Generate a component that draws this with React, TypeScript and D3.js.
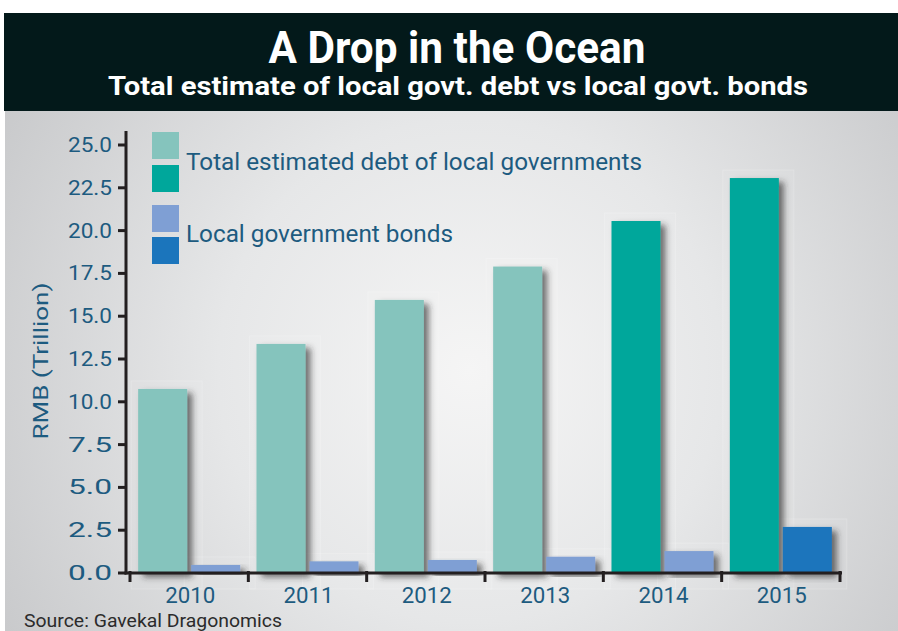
import React from "react";
import * as d3 from "d3";

const years = ["2010", "2011", "2012", "2013", "2014", "2015"];
const debtValues = [10.75, 13.38, 15.95, 17.9, 20.56, 23.07];
const bondValues = [0.47, 0.68, 0.76, 0.95, 1.28, 2.69];
const yTicks = [0, 2.5, 5, 7.5, 10, 12.5, 15, 17.5, 20, 22.5, 25];
const legendLabels = ["Total estimated debt of local governments", "Local government bonds"];
const title = "A Drop in the Ocean";
const subtitle = "Total estimate of local govt. debt vs local govt. bonds";
const yLabel = "RMB (Trillion)";
const source = "Source: Gavekal Dragonomics";
// years from which the darker shade is used
const debtDarkFrom = "2014";
const bondDarkFrom = "2015";

const W = 898;
const H = 631;
const TEXT_BLUE = "#1d5b80";
const C = {
  debtLight: "#85c4bd",
  debtDark: "#00a79b",
  bondLight: "#7f9fd4",
  bondDark: "#1b75bc",
};

export default function App() {
  const y = d3.scaleLinear().domain([0, 25]).range([573, 145]);
  const x = d3.scaleBand<string>().domain(years).range([130, 840]).padding(0);
  const sub = d3
    .scaleBand<string>()
    .domain(["debt", "bond"])
    .range([0, x.bandwidth()])
    .paddingInner(0.075)
    .paddingOuter(0.154);
  const bw = sub.bandwidth();
  const font = "Roboto, 'DejaVu Sans', sans-serif";

  const bars: { key: string; x: number; y: number; h: number; fill: string }[] = [];
  years.forEach((yr, i) => {
    const bx = x(yr)!;
    bars.push({
      key: "d" + yr,
      x: bx + sub("debt")!,
      y: y(debtValues[i]),
      h: y(0) - y(debtValues[i]),
      fill: +yr >= +debtDarkFrom ? C.debtDark : C.debtLight,
    });
    bars.push({
      key: "b" + yr,
      x: bx + sub("bond")!,
      y: y(bondValues[i]),
      h: y(0) - y(bondValues[i]),
      fill: +yr >= +bondDarkFrom ? C.bondDark : C.bondLight,
    });
  });

  const boundaries = [...years.map((yr) => x(yr)!), x.range()[1]];

  return (
    <svg
      width={W}
      height={H}
      style={{ position: "absolute", left: 0, top: 0 }}
      viewBox={`0 0 ${W} ${H}`}
    >
      <defs>
        <radialGradient id="bg" cx="470" cy="370" r="560" gradientUnits="userSpaceOnUse">
          <stop offset="0" stopColor="#f5f5f5" />
          <stop offset="0.45" stopColor="#e6e7e8" />
          <stop offset="1" stopColor="#c6c7c9" />
        </radialGradient>
        <filter id="shadow" x="-30%" y="-10%" width="170%" height="130%">
          <feDropShadow dx="5" dy="4" stdDeviation="3" floodColor="#2a2a2a" floodOpacity="0.65" />
        </filter>
      </defs>
      <rect x={0} y={0} width={W} height={H} fill="#ffffff" />
      <rect x={5} y={110} width={W - 5} height={H - 110} fill="url(#bg)" />
      <rect x={4} y={13} width={W - 4} height={98} fill="#03191a" />
      <text
        x={457}
        y={63}
        textAnchor="middle"
        fill="#ffffff"
        fontFamily={font}
        fontWeight="bold"
        fontSize={45}
        textLength={377}
        lengthAdjust="spacingAndGlyphs"
      >
        {title}
      </text>
      <text
        x={458}
        y={95}
        textAnchor="middle"
        fill="#ffffff"
        fontFamily={font}
        fontWeight="bold"
        fontSize={25}
        textLength={700}
        lengthAdjust="spacingAndGlyphs"
      >
        {subtitle}
      </text>

      {/* faint highlight boxes behind bars */}
      {bars.map((b) => (
        <rect
          key={"hl" + b.key}
          x={b.x - 7}
          y={b.y - 8}
          width={bw + 22}
          height={y(0) - b.y + 24}
          fill="#ffffff"
          fillOpacity={0.06}
          stroke="#ffffff"
          strokeOpacity={0.2}
          strokeWidth={1}
        />
      ))}

      {/* bars */}
      {bars.map((b) => (
        <rect key={b.key} x={b.x} y={b.y} width={bw} height={b.h} fill={b.fill} filter="url(#shadow)" />
      ))}

      {/* y axis */}
      <line x1={126} x2={126} y1={131} y2={574.5} stroke="#231f20" strokeWidth={3} />
      {yTicks.map((t) => (
        <g key={t}>
          <line x1={118} x2={126} y1={y(t)} y2={y(t)} stroke="#231f20" strokeWidth={3} />
          <text
            x={112}
            y={y(t) + 7}
            textAnchor="end"
            fill={TEXT_BLUE}
            fontFamily={font}
            fontSize={20}
            textLength={44}
            lengthAdjust="spacingAndGlyphs"
          >
            {t.toFixed(1)}
          </text>
        </g>
      ))}
      <text
        transform={`translate(48,361) rotate(-90)`}
        textAnchor="middle"
        fill={TEXT_BLUE}
        fontFamily={font}
        fontSize={21}
        textLength={157}
        lengthAdjust="spacingAndGlyphs"
      >
        {yLabel}
      </text>

      {/* x axis */}
      <line x1={124.5} x2={842} y1={573} y2={573} stroke="#231f20" strokeWidth={3} />
      {boundaries.map((bx, i) => (
        <line key={i} x1={bx} x2={bx} y1={571} y2={582} stroke="#231f20" strokeWidth={3} />
      ))}
      {years.map((yr) => (
        <text
          key={yr}
          x={x(yr)! + x.bandwidth() / 2 + 1}
          y={603}
          textAnchor="middle"
          fill={TEXT_BLUE}
          fontFamily={font}
          fontSize={22}
          textLength={50}
          lengthAdjust="spacingAndGlyphs"
        >
          {yr}
        </text>
      ))}

      {/* legend */}
      <rect x={152} y={132} width={27} height={27} fill={C.debtLight} />
      <rect x={152} y={165} width={27} height={27} fill={C.debtDark} />
      <rect x={152} y={205} width={27} height={27} fill={C.bondLight} />
      <rect x={152} y={237} width={27} height={27} fill={C.bondDark} />
      <text
        x={186}
        y={170}
        fill={TEXT_BLUE}
        fontFamily={font}
        fontSize={23}
        textLength={456}
        lengthAdjust="spacingAndGlyphs"
      >
        {legendLabels[0]}
      </text>
      <text
        x={186}
        y={242}
        fill={TEXT_BLUE}
        fontFamily={font}
        fontSize={23}
        textLength={267}
        lengthAdjust="spacingAndGlyphs"
      >
        {legendLabels[1]}
      </text>

      <text
        x={24}
        y={627}
        fill="#2b2b2b"
        fontFamily={font}
        fontSize={19}
        textLength={258}
        lengthAdjust="spacingAndGlyphs"
      >
        {source}
      </text>
    </svg>
  );
}
